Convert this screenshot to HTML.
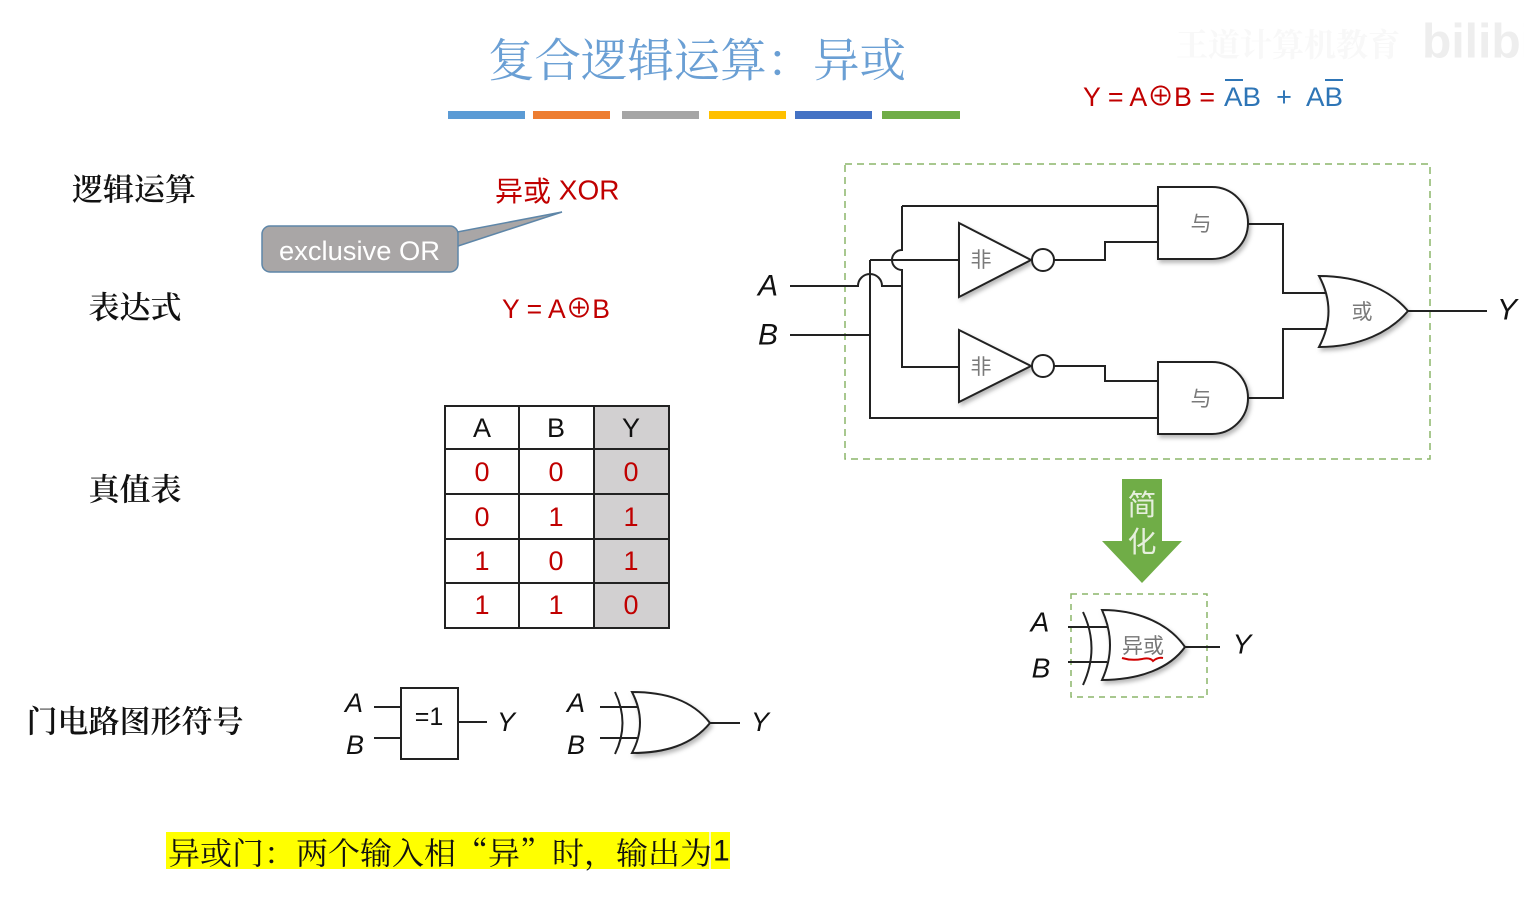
<!DOCTYPE html>
<html>
<head>
<meta charset="utf-8">
<style>
  html,body{margin:0;padding:0;background:#fff;}
  body{width:1524px;height:900px;overflow:hidden;position:relative;}
  svg{position:absolute;left:0;top:0;}
  .cn{font-family:"Liberation Serif","Noto Serif CJK SC",serif;}
  .cnonly{font-family:"Noto Serif CJK SC",serif;}
  .sans{font-family:"Liberation Sans","Noto Sans CJK SC",sans-serif;}
  .it{font-family:"Liberation Sans",sans-serif;font-style:italic;}
</style>
</head>
<body>
<svg width="1524" height="900" viewBox="0 0 1524 900" xmlns="http://www.w3.org/2000/svg">
  <defs>
    <filter id="sh" x="-20%" y="-20%" width="150%" height="150%">
      <feDropShadow dx="2" dy="3" stdDeviation="2" flood-color="#000" flood-opacity="0.28"/>
    </filter>
  </defs>

  <!-- watermark -->
  <text x="1288" y="45" class="cn" font-size="32" fill="#f8f8f8" text-anchor="middle" dominant-baseline="central" font-weight="700">王道计算机教育</text>
  <text x="1422" y="42" class="sans" font-size="48" fill="#eeeeee" font-weight="700" dominant-baseline="central">bilibili</text>

  <!-- title -->
  <text x="488" y="61" class="cn" font-size="46" fill="#6a9fd4" dominant-baseline="central" textLength="418" lengthAdjust="spacingAndGlyphs">复合逻辑运算：异或</text>

  <!-- color bars -->
  <rect x="448" y="111" width="77" height="8" fill="#5b9bd5"/>
  <rect x="533" y="111" width="77" height="8" fill="#ed7d31"/>
  <rect x="622" y="111" width="77" height="8" fill="#a5a5a5"/>
  <rect x="709" y="111" width="77" height="8" fill="#ffc000"/>
  <rect x="795" y="111" width="77" height="8" fill="#4472c4"/>
  <rect x="882" y="111" width="78" height="8" fill="#70ad47"/>

  <!-- formula top right -->
  <text x="1083" y="97" class="sans" font-size="27" fill="#c00000" dominant-baseline="central" textLength="132" lengthAdjust="spacingAndGlyphs">Y = A⊕B =</text>
  <text x="1224" y="97" class="sans" font-size="27" fill="#2e75b6" dominant-baseline="central" textLength="37" lengthAdjust="spacingAndGlyphs">AB</text>
  <text x="1284" y="97" class="sans" font-size="27" fill="#2e75b6" dominant-baseline="central" text-anchor="middle">+</text>
  <text x="1306" y="97" class="sans" font-size="27" fill="#2e75b6" dominant-baseline="central" textLength="37" lengthAdjust="spacingAndGlyphs">AB</text>
  <line x1="1225" y1="80" x2="1243" y2="80" stroke="#2e75b6" stroke-width="2"/>
  <line x1="1325" y1="80" x2="1343" y2="80" stroke="#2e75b6" stroke-width="2"/>

  <!-- left labels -->
  <text x="134" y="190" class="cn" font-size="31" font-weight="600" fill="#111" text-anchor="middle" dominant-baseline="central">逻辑运算</text>
  <text x="135" y="308" class="cn" font-size="31" font-weight="600" fill="#111" text-anchor="middle" dominant-baseline="central">表达式</text>
  <text x="135" y="490" class="cn" font-size="31" font-weight="600" fill="#111" text-anchor="middle" dominant-baseline="central">真值表</text>
  <text x="135" y="722" class="cn" font-size="31" font-weight="600" fill="#111" text-anchor="middle" dominant-baseline="central">门电路图形符号</text>

  <!-- XOR label -->
  <text x="495" y="190" font-size="28" fill="#c00000" dominant-baseline="central" class="sans"><tspan font-family="Noto Sans CJK SC, sans-serif">异或</tspan> XOR</text>

  <!-- callout -->
  <polygon points="452,233 562,212 455,247" fill="#a9a6a6" stroke="#5e86a8" stroke-width="1.5"/>
  <rect x="262" y="226" width="196" height="46" rx="8" fill="#a9a6a6" stroke="#5e86a8" stroke-width="1.5"/>
  <polygon points="450,234.5 456,233.5 456,245.5 450,246" fill="#a9a6a6"/>
  <text x="279" y="251" class="sans" font-size="27" fill="#fff" dominant-baseline="central" textLength="161" lengthAdjust="spacingAndGlyphs">exclusive OR</text>

  <!-- expression -->
  <text x="502" y="309" class="sans" font-size="27" fill="#c00000" dominant-baseline="central" textLength="108" lengthAdjust="spacingAndGlyphs">Y = A⊕B</text>

  <!-- truth table -->
  <rect x="594" y="406" width="75" height="222" fill="#d2d0d1"/>
  <g stroke="#222" stroke-width="2" fill="none">
    <rect x="445" y="406" width="224" height="222"/>
    <line x1="519" y1="406" x2="519" y2="628"/>
    <line x1="594" y1="406" x2="594" y2="628"/>
    <line x1="445" y1="449" x2="669" y2="449"/>
    <line x1="445" y1="494" x2="669" y2="494"/>
    <line x1="445" y1="539" x2="669" y2="539"/>
    <line x1="445" y1="583" x2="669" y2="583"/>
  </g>
  <g class="sans" font-size="27" text-anchor="middle" dominant-baseline="central">
    <text x="482" y="428" fill="#111">A</text>
    <text x="556" y="428" fill="#111">B</text>
    <text x="631" y="428" fill="#111">Y</text>
    <g fill="#c00000">
      <text x="482" y="472">0</text><text x="556" y="472">0</text><text x="631" y="472">0</text>
      <text x="482" y="517">0</text><text x="556" y="517">1</text><text x="631" y="517">1</text>
      <text x="482" y="561">1</text><text x="556" y="561">0</text><text x="631" y="561">1</text>
      <text x="482" y="605">1</text><text x="556" y="605">1</text><text x="631" y="605">0</text>
    </g>
  </g>

  <!-- bottom gate symbols -->
  <g class="it" font-size="27" fill="#111" text-anchor="middle" dominant-baseline="central">
    <text x="354" y="703">A</text>
    <text x="355" y="745">B</text>
    <text x="506" y="722">Y</text>
    <text x="576" y="703">A</text>
    <text x="576" y="745">B</text>
    <text x="760" y="722">Y</text>
  </g>
  <g stroke="#222" stroke-width="2" fill="none">
    <path d="M374,707 H401 M374,738 H401 M458,722 H487"/>
    <rect x="401" y="688" width="57" height="71" fill="#fff"/>
    <path d="M600,707 H637 M600,738 H637 M710,723 H740"/>
    <path d="M615,692 Q630,723 615,754"/>
    <path d="M632,692 C665,692 692,700 710,723 C692,745 665,753 632,753 Q648,723 632,692 Z" fill="#fff" filter="url(#sh)"/>
  </g>
  <text x="429" y="717" class="sans" font-size="25" fill="#111" text-anchor="middle" dominant-baseline="central">=1</text>

  <!-- bottom highlighted sentence -->
  <rect x="166" y="832" width="564" height="37" fill="#ffff00"/>
  <rect x="709" y="832" width="2" height="37" fill="#f4f4d0"/>
  <text x="168" y="851" class="cnonly" font-size="31" fill="#111" dominant-baseline="central" textLength="544" lengthAdjust="spacingAndGlyphs">异或门：两个输入相“异”时，输出为</text>
  <text x="713" y="851" font-family="Liberation Sans, sans-serif" font-size="30" fill="#111" dominant-baseline="central">1</text>

  <!-- circuit dashed frame -->
  <rect x="845" y="164" width="585" height="295" fill="none" stroke="#8cb56a" stroke-width="1.5" stroke-dasharray="7,5"/>

  <!-- circuit labels -->
  <g class="it" font-size="30" fill="#111" text-anchor="middle" dominant-baseline="central">
    <text x="768" y="286">A</text>
    <text x="768" y="335">B</text>
    <text x="1507" y="310">Y</text>
  </g>

  <!-- circuit wires -->
  <g stroke="#222" stroke-width="2" fill="none">
    <path d="M790,286 H858 A12,12 0 0 1 882,286 H902"/>
    <path d="M902,206 V250 A10,10 0 0 0 902,270 V367 H959"/>
    <path d="M902,206 H1158"/>
    <path d="M870,260 H959"/>
    <path d="M870,260 V418 H1158"/>
    <path d="M790,335 H870"/>
    <path d="M1054,260 H1105 V242 H1158"/>
    <path d="M1054,366 H1105 V381 H1158"/>
    <path d="M1248,224 H1283 V293 H1327"/>
    <path d="M1248,398 H1283 V329 H1327"/>
    <path d="M1408,311 H1487"/>
  </g>

  <!-- gates -->
  <g stroke="#222" stroke-width="2" fill="#fff">
    <path d="M959,223 L1031,260 L959,297 Z" filter="url(#sh)"/>
    <circle cx="1043" cy="260" r="11"/>
    <path d="M959,330 L1031,366 L959,402 Z" filter="url(#sh)"/>
    <circle cx="1043" cy="366" r="11"/>
    <path d="M1158,187 H1212 A36,36 0 0 1 1212,259 H1158 Z" filter="url(#sh)"/>
    <path d="M1158,362 H1212 A36,36 0 0 1 1212,434 H1158 Z" filter="url(#sh)"/>
    <path d="M1319,276 C1360,276 1390,290 1408,311 C1390,332 1360,347 1319,347 Q1338,311 1319,276 Z" filter="url(#sh)"/>
  </g>
  <g font-family="Noto Sans CJK SC, sans-serif" font-size="21" fill="#7a7a7a" text-anchor="middle" dominant-baseline="central">
    <text x="981" y="259">非</text>
    <text x="981" y="366">非</text>
    <text x="1201" y="223">与</text>
    <text x="1201" y="398">与</text>
    <text x="1362" y="311">或</text>
  </g>

  <!-- green arrow -->
  <polygon points="1122,479 1162,479 1162,541 1182,541 1142,583 1102,541 1122,541" fill="#70ad47"/>
  <g font-family="Noto Sans CJK SC, sans-serif" font-size="29" fill="#e6efdd" text-anchor="middle" dominant-baseline="central">
    <text x="1142" y="503">简</text>
    <text x="1142" y="540">化</text>
  </g>

  <!-- simplified XOR -->
  <rect x="1071" y="594" width="136" height="103" fill="none" stroke="#8cb56a" stroke-width="1.5" stroke-dasharray="6,5"/>
  <g stroke="#222" stroke-width="2" fill="none">
    <path d="M1068,627 H1107 M1068,662 H1107 M1185,647 H1220"/>
    <path d="M1083,612 Q1100,648 1083,685"/>
    <path d="M1102,610 C1140,610 1170,625 1185,647 C1170,668 1140,680 1102,680 Q1118,645 1102,610 Z" fill="#fff" filter="url(#sh)"/>
  </g>
  <text x="1143" y="645" font-family="Noto Sans CJK SC, sans-serif" font-size="21" fill="#777" text-anchor="middle" dominant-baseline="central">异或</text>
  <path d="M1122,658 Q1132,661 1142,659 Q1150,657 1153,661 Q1158,657 1163,658" stroke="#d00000" stroke-width="2" fill="none"/>
  <g class="it" font-size="28" fill="#111" text-anchor="middle" dominant-baseline="central">
    <text x="1040" y="622">A</text>
    <text x="1041" y="668">B</text>
    <text x="1242" y="644">Y</text>
  </g>
</svg>
</body>
</html>
